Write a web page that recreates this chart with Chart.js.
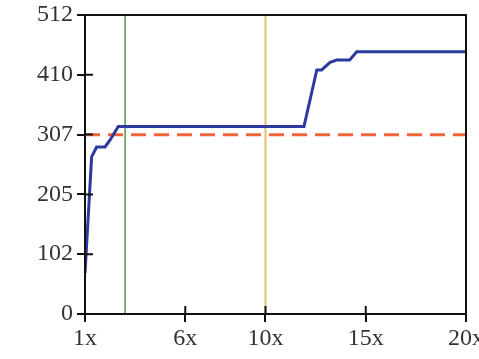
<!DOCTYPE html>
<html>
<head>
<meta charset="utf-8">
<script src="https://cdn.jsdelivr.net/npm/chart.js@4"></script>
<style>
  html, body { margin: 0; padding: 0; background: #fff; }
  #wrap { width: 479px; height: 359px; }
</style>
</head>
<body>
<div id="wrap"><canvas id="ch_speedup"></canvas></div>
<script>
// Blue curve
const curveX = [1, 1.33, 1.58, 2.0, 2.25, 2.66, 11.92, 12.56, 12.8, 13.22, 13.55, 14.2, 14.55, 20];
const curveY = [70, 269, 286, 286, 298, 321, 321, 418, 418, 431, 435, 435, 449, 449];

// Reference lines
const refLevel = 307;        // dashed horizontal
const markGreenX = 3;        // green vertical
const markOrangeX = 10;      // orange vertical

// Axes
const xTicks = [1, 6, 10, 15, 20];
const yTicks = [0, 102.4, 204.8, 307.2, 409.6, 512];
const yTickLabels = ['0', '102', '205', '307', '410', '512'];

const FONT = { family: '"Liberation Serif", "Times New Roman", serif', size: 24 };

// box around the plot + tick marks on the inner side
const boxAndTicks = {
  id: 'boxAndTicks',
  afterDatasetsDraw(chart) {
    const { ctx, chartArea: a, scales } = chart;
    ctx.save();
    ctx.strokeStyle = '#111';
    ctx.lineWidth = 2;
    ctx.strokeRect(a.left, a.top, a.right - a.left, a.bottom - a.top);
    ctx.beginPath();
    xTicks.forEach(v => {
      const px = scales.x.getPixelForValue(v);
      ctx.moveTo(px, a.bottom); ctx.lineTo(px, a.bottom - 8);
    });
    yTicks.forEach(v => {
      const py = scales.y.getPixelForValue(v);
      ctx.moveTo(a.left, py); ctx.lineTo(a.left + 8, py);
    });
    ctx.stroke();
    ctx.restore();
  }
};

const vline = (x, color, w) => ({
  data: [{ x, y: 0 }, { x, y: 512 }],
  borderColor: color, borderWidth: w, pointRadius: 0, order: 3
});

const chart = new Chart(document.getElementById('ch_speedup').getContext('2d'), {
  type: 'line',
  data: {
    datasets: [
      {
        data: curveX.map((x, i) => ({ x, y: curveY[i] })),
        borderColor: '#2b3a9c', borderWidth: 3, pointRadius: 0, tension: 0, order: 0
      },
      {
        data: [{ x: xTicks[0], y: refLevel }, { x: xTicks[xTicks.length - 1], y: refLevel }],
        borderColor: '#f0643a', borderWidth: 3, borderDash: [15, 8], pointRadius: 0, order: 1
      },
      vline(markGreenX, '#4f9a3f', 1.5),
      vline(markOrangeX, '#e8bd6c', 2)
    ]
  },
  options: {
    responsive: true,
    maintainAspectRatio: false,
    animation: false,
    layout: { padding: { top: 15, right: 13, left: 0, bottom: 0 } },
    plugins: { legend: { display: false }, tooltip: { enabled: false } },
    scales: {
      x: {
        type: 'linear', min: 1, max: 20,
        afterBuildTicks: s => { s.ticks = xTicks.map(v => ({ value: v })); },
        afterFit: s => { s.height = 45; s.paddingLeft = 0; s.paddingRight = 0; },
        grid: { drawOnChartArea: false, color: '#111', lineWidth: 2, tickLength: 8, tickColor: '#111' },
        border: { color: '#111', width: 2 },
        ticks: { color: '#333', font: FONT, padding: 2, maxRotation: 0, autoSkip: false,
                 callback: v => v + 'x' }
      },
      y: {
        min: 0, max: 512,
        afterBuildTicks: s => { s.ticks = yTicks.map(v => ({ value: v })); },
        afterFit: s => { s.width = 85; s.paddingTop = 0; s.paddingBottom = 0; },
        grid: { drawOnChartArea: false, color: '#111', lineWidth: 2, tickLength: 8, tickColor: '#111' },
        border: { color: '#111', width: 2 },
        ticks: { color: '#333', font: FONT, padding: 4, autoSkip: false,
                 callback: (v, i) => yTickLabels[i] }
      }
    }
  },
  plugins: [boxAndTicks]
});
</script>
</body>
</html>
